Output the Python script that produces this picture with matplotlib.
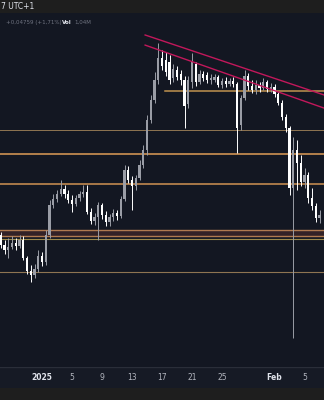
import numpy as np
import pandas as pd
import matplotlib
matplotlib.use('Agg')
import matplotlib.pyplot as plt
import matplotlib.dates as mdates

# 12h candles
times = pd.date_range('2024-12-26 12:00', periods=86, freq='12h')

opens = [2.341, 2.286, 2.258, 2.275, 2.297, 2.280, 2.313, 2.214, 2.142, 2.119,
         2.153, 2.225, 2.192, 2.341, 2.508, 2.541, 2.569, 2.596, 2.569, 2.535,
         2.513, 2.546, 2.569, 2.580, 2.469, 2.419, 2.441, 2.508, 2.452, 2.413,
         2.441, 2.463, 2.447, 2.541, 2.701, 2.646, 2.613, 2.657, 2.729, 2.812,
         2.979, 3.090, 3.200, 3.322, 3.311, 3.300, 3.212, 3.256, 3.234, 3.200,
         3.067, 3.189, 3.289, 3.189, 3.234, 3.228, 3.200, 3.200, 3.217, 3.173,
         3.195, 3.178, 3.195, 3.178, 2.951, 3.101, 3.223, 3.167, 3.145, 3.173,
         3.156, 3.189, 3.151, 3.162, 3.123, 3.073, 2.995, 2.934, 2.602, 2.812,
         2.740, 2.635, 2.674, 2.546, 2.502, 2.435]
closes = [2.286, 2.258, 2.275, 2.297, 2.280, 2.313, 2.214, 2.142, 2.119, 2.153,
          2.225, 2.192, 2.341, 2.508, 2.541, 2.569, 2.596, 2.569, 2.535, 2.513,
          2.546, 2.569, 2.580, 2.469, 2.419, 2.441, 2.508, 2.452, 2.413, 2.441,
          2.463, 2.447, 2.541, 2.701, 2.646, 2.613, 2.657, 2.729, 2.812, 2.979,
          3.090, 3.200, 3.322, 3.278, 3.245, 3.200, 3.261, 3.217, 3.200, 3.056,
          3.200, 3.300, 3.189, 3.234, 3.212, 3.200, 3.212, 3.217, 3.173, 3.195,
          3.178, 3.195, 3.178, 2.934, 3.101, 3.223, 3.167, 3.145, 3.173, 3.156,
          3.189, 3.151, 3.162, 3.123, 3.073, 2.995, 2.934, 2.602, 2.812, 2.740,
          2.635, 2.674, 2.546, 2.502, 2.435, 2.452]
highs = [2.358, 2.313, 2.325, 2.336, 2.325, 2.341, 2.336, 2.225, 2.175, 2.180,
         2.258, 2.247, 2.369, 2.535, 2.569, 2.591, 2.646, 2.618, 2.591, 2.563,
         2.563, 2.585, 2.618, 2.618, 2.491, 2.463, 2.524, 2.519, 2.474, 2.458,
         2.485, 2.480, 2.557, 2.729, 2.724, 2.668, 2.674, 2.757, 2.840, 3.006,
         3.117, 3.245, 3.406, 3.367, 3.356, 3.339, 3.289, 3.278, 3.256, 3.223,
         3.223, 3.350, 3.300, 3.256, 3.250, 3.245, 3.234, 3.234, 3.228, 3.212,
         3.217, 3.212, 3.217, 3.189, 3.117, 3.256, 3.239, 3.200, 3.200, 3.189,
         3.212, 3.200, 3.184, 3.178, 3.134, 3.090, 3.012, 2.946, 2.885, 2.868,
         2.785, 2.713, 2.690, 2.602, 2.519, 2.480]
lows = [2.269, 2.236, 2.214, 2.264, 2.258, 2.269, 2.203, 2.125, 2.081, 2.103,
        2.136, 2.169, 2.175, 2.325, 2.491, 2.524, 2.557, 2.546, 2.519, 2.469,
        2.502, 2.530, 2.552, 2.458, 2.402, 2.397, 2.313, 2.430, 2.391, 2.391,
        2.419, 2.424, 2.435, 2.530, 2.629, 2.480, 2.591, 2.646, 2.713, 2.785,
        2.962, 3.073, 3.178, 3.256, 3.223, 3.178, 3.189, 3.200, 3.173, 2.934,
        3.045, 3.156, 3.167, 3.178, 3.195, 3.184, 3.178, 3.189, 3.162, 3.156,
        3.162, 3.167, 3.162, 2.796, 2.923, 3.090, 3.145, 3.128, 3.123, 3.134,
        3.145, 3.134, 3.134, 3.106, 3.062, 2.979, 2.912, 2.563, 1.770, 2.591,
        2.613, 2.602, 2.519, 2.480, 2.413, 2.408]

# horizontal levels: price, start date (None = whole width), colour, width
levels = [
    (3.139, '2025-01-17 10:00', '#c0924f', 1.1),
    (2.923, None, '#8f7552', 0.7),
    (2.790, None, '#c0884f', 1.3),
    (2.624, None, '#c0884f', 1.2),
    (2.369, None, '#b07a50', 1.0),
    (2.336, None, '#b07a50', 1.0),
    (2.319, None, '#9c8a4c', 0.8),
    (2.136, None, '#8f7552', 0.8),
]
band = (2.336, 2.369)

# descending trend lines (two anchor points each)
trend_upper = [('2025-01-14 18:00', 3.450), ('2025-02-08 00:00', 3.112)]
trend_lower = [('2025-01-14 18:00', 3.394), ('2025-02-08 00:00', 3.039)]

tick_dates = ['2025-01-01', '2025-01-05', '2025-01-09', '2025-01-13', '2025-01-17',
              '2025-01-21', '2025-01-25', '2025-02-01', '2025-02-05']
tick_labels = ['2025', '5', '9', '13', '17', '21', '25', 'Feb', '5']

bg = '#131722'
up_col = '#9a9da6'
down_col = '#ffffff'

fig = plt.figure(figsize=(3.24, 4.0), dpi=100, facecolor='#1e1e1e')

ax = fig.add_axes([0, 0.0825, 1, 0.885])
ax.set_facecolor(bg)

x = mdates.date2num(times)
o = np.array(opens)
c = np.array(closes)
col = np.where(c >= o, up_col, down_col)

w = 0.3
ax.vlines(x, lows, highs, colors=col, lw=0.7, zorder=3)
ax.bar(x, np.maximum(np.abs(c - o), 0.004), bottom=np.minimum(o, c), width=w,
       color=col, linewidth=0, zorder=4)

jan1 = mdates.date2num(pd.Timestamp('2025-01-01'))
x0, x1 = jan1 - 5.6, jan1 + 37.6
ax.set_xlim(x0, x1)
ax.set_ylim(1.609, 3.572)

# support / resistance
ax.axhspan(band[0], band[1], color='#4a2a2c', alpha=0.6, lw=0, zorder=1)
for price, start, lc, lw in levels:
    xs = x0 if start is None else mdates.date2num(pd.Timestamp(start))
    ax.plot([xs, x1], [price, price], color=lc, lw=lw, zorder=2)

for tl in (trend_upper, trend_lower):
    tx = [mdates.date2num(pd.Timestamp(d)) for d, _ in tl]
    ty = [p for _, p in tl]
    ax.plot(tx, ty, color='#c2185b', lw=1.0, zorder=5)

ax.set_xticks([])
ax.set_yticks([])
for s in ax.spines.values():
    s.set_visible(False)

# time axis strip
axt = fig.add_axes([0, 0.03, 1, 0.0525])
axt.set_facecolor('#161a25')
axt.set_xlim(x0, x1)
axt.set_ylim(0, 1)
axt.set_xticks([])
axt.set_yticks([])
for s in axt.spines.values():
    s.set_visible(False)
axt.axhline(1, color='#2a2e39', lw=1)
for d, lab in zip(tick_dates, tick_labels):
    bold = lab in ('2025', 'Feb')
    axt.text(mdates.date2num(pd.Timestamp(d)), 0.5, lab, ha='center', va='center',
             fontsize=5.5, color='#e0e3eb' if bold else '#b2b5be',
             fontweight='bold' if bold else 'normal')

# header
fig.text(0.003, 1 - 6.5 / 400, '7 UTC+1', fontsize=5.5, color='#e0e3eb',
         ha='left', va='center')
fig.text(0.02, 1 - 22.5 / 400, '+0,04759 (+1,71%)', fontsize=4.0, color='#6f7380',
         ha='left', va='center')
fig.text(0.19, 1 - 22.5 / 400, 'Vol', fontsize=4.0, color='#e0e3eb',
         fontweight='bold', ha='left', va='center')
fig.text(0.228, 1 - 22.5 / 400, '1,04M', fontsize=4.0, color='#6f7380',
         ha='left', va='center')

fig.savefig('out.png', dpi=100, facecolor=fig.get_facecolor())
